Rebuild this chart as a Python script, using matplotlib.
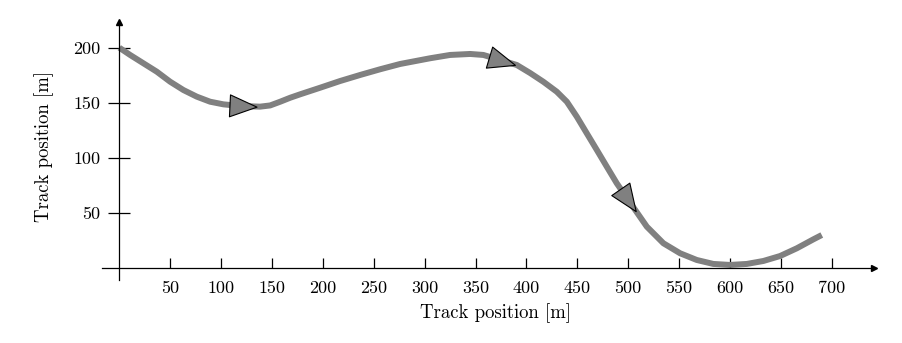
import numpy as np
import matplotlib
matplotlib.use("Agg")
import matplotlib.pyplot as plt
from matplotlib.path import Path
from matplotlib.markers import MarkerStyle
from matplotlib.transforms import Affine2D

# curve
track_x = [0, 10.6, 23.7, 36.8, 49.9, 63, 76.1, 89.2, 102.3, 118.7, 138.3,
           148.2, 158.1, 167.9, 177.6, 197.3, 216.9, 236.6, 256.3, 275.9,
           305.4, 325, 344.7, 357.7, 390.5, 403.6, 416.7, 429.8, 439.7, 449.5,
           459.3, 469.2, 479, 488.8, 503.5, 518.3, 534.6, 551, 567.4, 583.7,
           600.1, 616.5, 632.8, 649.2, 665.6, 682, 690.2]
track_y = [200, 193.4, 185.8, 178.2, 169.1, 161.5, 155.5, 150.9, 148.5, 147,
           146.4, 147.5, 150.9, 154.5, 157.6, 163.6, 169.7, 175.2, 180.4, 185.2,
           190.4, 193.4, 194.3, 193.4, 184.3, 177, 169, 160, 150.9, 137.3,
           122.2, 107, 91.8, 76.7, 57, 37.3, 22.2, 13.1, 7, 3.4,
           2.5, 3.4, 6.1, 10.6, 17.6, 25.8, 29.7]
arrow_x = [122, 376, 500]   # where the direction arrows sit
xticks = [50, 100, 150, 200, 250, 300, 350, 400, 450, 500, 550, 600, 650, 700]
yticks = [50, 100, 150, 200]

plt.rcParams['font.family'] = 'cmr10'
plt.rcParams['axes.formatter.use_mathtext'] = True
plt.rcParams['mathtext.fontset'] = 'cm'

fig = plt.figure(figsize=(9.02, 3.43), dpi=100)
ax = fig.add_axes([0.1131, 0.1843, 0.8564, 0.7504])
ax.set_xlim(-17, 742)
ax.set_ylim(-11, 223)

ax.plot(track_x, track_y, color='#808080', lw=4.3, solid_joinstyle='round',
        solid_capstyle='butt', zorder=2)

# arrows along the curve, rotated to the local direction in screen space
fig.canvas.draw()
tri = Path([(1, 0), (-1, 0.81), (-1, -0.81), (1, 0)],
           [Path.MOVETO, Path.LINETO, Path.LINETO, Path.CLOSEPOLY])
for xa in arrow_x:
    ya = np.interp(xa, track_x, track_y)
    p0 = ax.transData.transform((xa - 6, np.interp(xa - 6, track_x, track_y)))
    p1 = ax.transData.transform((xa + 6, np.interp(xa + 6, track_x, track_y)))
    ang = np.degrees(np.arctan2(p1[1] - p0[1], p1[0] - p0[0]))
    m = MarkerStyle(tri, transform=Affine2D().rotate_deg(ang))
    ax.plot([xa], [ya], marker=m, ms=19.5, mfc='#808080', mec='black', mew=0.8,
            ls='none', zorder=3)

# axes through the origin, with arrow heads
for s in ['top', 'right']:
    ax.spines[s].set_visible(False)
ax.spines['left'].set_position(('data', 0))
ax.spines['bottom'].set_position(('data', 0))
ax.spines['left'].set_linewidth(0.9)
ax.spines['bottom'].set_linewidth(0.9)
ax.plot(1, 0, '>k', ms=5, transform=ax.get_yaxis_transform(), clip_on=False)
ax.plot(0, 1, '^k', ms=5, transform=ax.get_xaxis_transform(), clip_on=False)

ax.set_xticks(xticks)
ax.set_yticks(yticks)
ax.set_xticklabels([str(t) for t in xticks])
ax.set_yticklabels([str(t) for t in yticks])
ax.tick_params(axis='x', direction='in', length=7.5, width=0.9, pad=9.5, labelsize=13)
ax.tick_params(axis='y', direction='inout', length=16, width=0.9, pad=5.5, labelsize=13)

ax.set_xlabel('Track position [m]', fontsize=13.5)
ax.set_ylabel('Track position [m]', fontsize=13.5)
ax.xaxis.set_label_coords(0.51, -0.09)
ax.yaxis.set_label_coords(-0.062, 0.518)

fig.savefig('out.png', dpi=100)
